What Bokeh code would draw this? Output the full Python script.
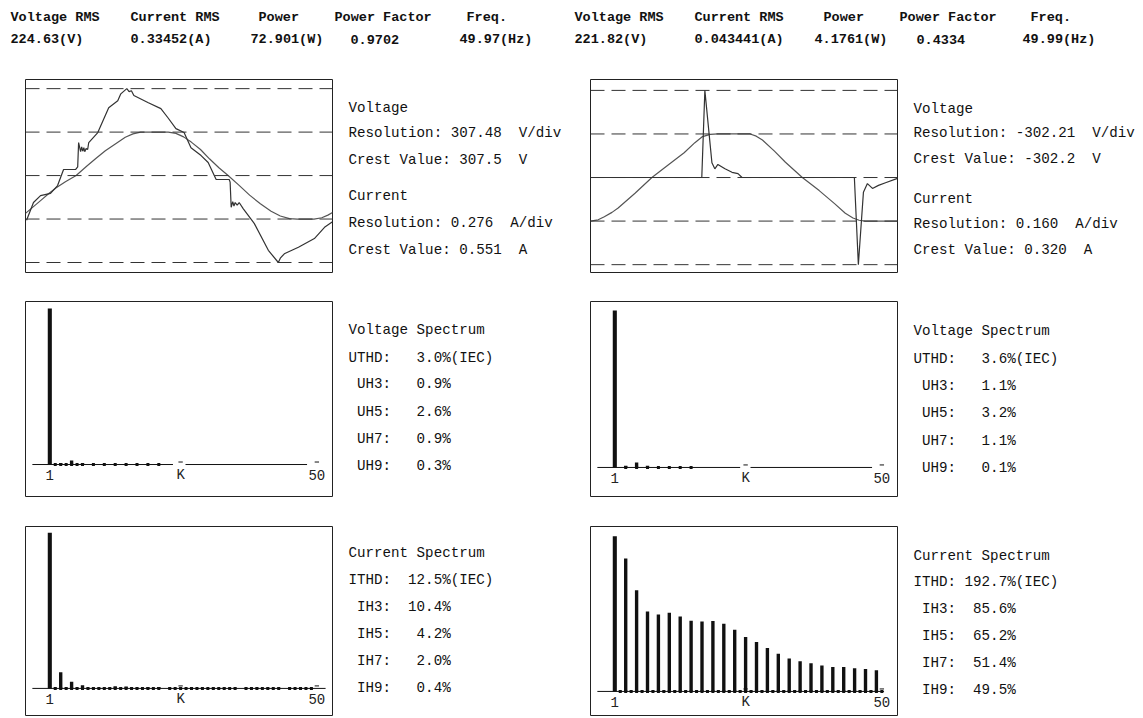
from bokeh.plotting import figure
from bokeh.layouts import column, row
from bokeh.models import Range1d, Span
from bokeh.embed import file_html
from bokeh.resources import INLINE
from bokeh.core.properties import value

MONO = "Liberation Mono"
NB = "\u00a0"

# ---------------- header texts ----------------
hdr_labels = ["Voltage RMS", "Current RMS", "Power", "Power Factor", "Freq."]
hdr_vals_L = ["224.63(V)", "0.33452(A)", "72.901(W)", "0.9702", "49.97(Hz)"]
hdr_vals_R = ["221.82(V)", "0.043441(A)", "4.1761(W)", "0.4334", "49.99(Hz)"]

# ---------------- info texts ----------------
wave_txt_L = ["Voltage", "Resolution: 307.48  V/div", "Crest Value: 307.5  V",
              "Current", "Resolution: 0.276  A/div", "Crest Value: 0.551  A"]
wave_txt_R = ["Voltage", "Resolution: -302.21  V/div", "Crest Value: -302.2  V",
              "Current", "Resolution: 0.160  A/div", "Crest Value: 0.320  A"]
vspec_txt_L = ["Voltage Spectrum", "UTHD:   3.0%(IEC)", " UH3:   0.9%", " UH5:   2.6%", " UH7:   0.9%", " UH9:   0.3%"]
vspec_txt_R = ["Voltage Spectrum", "UTHD:   3.6%(IEC)", " UH3:   1.1%", " UH5:   3.2%", " UH7:   1.1%", " UH9:   0.1%"]
ispec_txt_L = ["Current Spectrum", "ITHD:  12.5%(IEC)", " IH3:  10.4%", " IH5:   4.2%", " IH7:   2.0%", " IH9:   0.4%"]
ispec_txt_R = ["Current Spectrum", "ITHD: 192.7%(IEC)", " IH3:  85.6%", " IH5:  65.2%", " IH7:  51.4%", " IH9:  49.5%"]

# ---------------- waveforms (time in ms, value in divisions) ----------------
grid_divs = [-2, -1, 0, 1, 2]

wL_v_t = [0.0, 0.5, 1.0, 1.5, 2.0, 2.6, 3.3, 4.0, 4.6, 5.2, 5.9, 6.5, 7.0, 7.5, 8.0, 9.3, 9.8,
          10.3, 10.8, 11.4, 12.0, 12.6, 13.2, 13.9, 14.6, 15.3, 16.0, 16.6, 17.2, 17.7, 18.8, 19.3, 19.7, 20.0]
wL_v = [-0.87, -0.72, -0.57, -0.42, -0.28, -0.14, 0.0, 0.22, 0.4, 0.57, 0.74, 0.88, 0.96, 1.0, 1.0, 1.0, 0.97,
        0.89, 0.77, 0.6, 0.38, 0.18, 0.0, -0.22, -0.45, -0.65, -0.82, -0.93, -0.99, -1.0, -1.0, -0.97, -0.91, -0.85]

wL_i_t = [0.07, 0.52, 0.98, 1.63, 2.09, 2.48, 3.27, 3.40, 3.46, 3.59, 3.66, 3.73, 3.80, 3.86, 3.95, 4.05, 4.12,
          4.71, 5.42, 6.01, 6.21, 6.60, 6.75, 6.9, 7.06, 7.97, 8.82, 9.28, 9.80, 10.33, 10.78, 11.44, 11.90, 12.42,
          13.27, 13.33, 13.40, 13.50, 13.58, 13.66, 13.79, 13.92, 14.18, 14.90, 15.82, 16.47, 16.60, 16.86,
          17.78, 18.82, 19.48, 20.0]
wL_i = [-1.03, -0.62, -0.46, -0.41, -0.23, 0.14, 0.14, 0.20, 0.76, 0.55, 0.66, 0.56, 0.64, 0.55, 0.62, 0.60, 0.76,
        0.99, 1.56, 1.72, 1.88, 2.0, 1.93, 1.95, 1.84, 1.68, 1.54, 1.33, 1.08, 0.99, 0.64, 0.46, 0.30, -0.09,
        -0.09, -0.15, -0.73, -0.60, -0.70, -0.62, -0.68, -0.62, -0.76, -1.10, -1.72, -2.0, -1.90, -1.80,
        -1.65, -1.45, -1.19, -1.06]

wR_v_t = [0.0, 0.5, 0.9, 1.4, 1.8, 2.9, 4.0, 5.1, 6.1, 6.8, 7.3, 7.8, 8.3, 10.4, 10.8, 11.2, 12.0, 12.7,
          13.8, 14.9, 15.9, 16.6, 17.1, 17.5, 17.9, 20.0]
wR_v = [-1.0, -0.97, -0.9, -0.8, -0.7, -0.36, 0.0, 0.3, 0.57, 0.8, 0.94, 0.99, 1.0, 1.0, 0.95, 0.86, 0.6, 0.35,
        0.0, -0.3, -0.6, -0.82, -0.93, -0.98, -1.0, -1.0]

wR_i_t = [0.0, 7.25, 7.45, 7.91, 8.10, 8.30, 8.76, 9.22, 9.61, 9.87, 17.19, 17.45, 17.78, 18.04, 18.37,
          18.76, 19.22, 20.0]
wR_i = [0.0, 0.0, 2.0, 0.34, 0.20, 0.30, 0.20, 0.12, 0.09, 0.0, 0.0, -2.0, -0.34, -0.14, -0.25,
        -0.18, -0.12, -0.02]

# ---------------- spectra (harmonic order, % of fundamental) ----------------
harmonics = list(range(1, 51))
vspec_L = [100, 0.3, 0.9, 0.2, 2.6, 0.4, 0.9, 0, 0.3, 0, 0.4, 0, 0.3, 0, 0.4, 0, 0.3, 0, 0.3, 0,
           0.3, 0, 0, 0, 0, 0, 0, 0, 0, 0, 0, 0, 0, 0, 0, 0, 0, 0, 0, 0,
           0, 0, 0, 0, 0, 0, 0, 0, 0, 0]
vspec_R = [100, 0, 1.1, 0, 3.2, 0, 1.1, 0, 0.1, 0, 0.3, 0, 0.3, 0, 0.3, 0, 0, 0, 0, 0,
           0, 0, 0, 0, 0, 0, 0, 0, 0, 0, 0, 0, 0, 0, 0, 0, 0, 0, 0, 0,
           0, 0, 0, 0, 0, 0, 0, 0, 0, 0]
ispec_L = [100, 0.5, 10.4, 0.4, 4.2, 0.4, 2.0, 0.4, 0.4, 0.4, 0.5, 0.4, 1.4, 0.4, 1.3, 0.4, 0.5, 0.3, 0.8, 0.3,
           0.9, 0, 0.4, 0.3, 0.5, 0.3, 0.4, 0.3, 0.5, 0.3, 0.5, 0.3, 0.5, 0.3, 0.5, 0, 0.5, 0.3, 0.4, 0.3,
           0.4, 0.3, 0.4, 0, 0.4, 0.3, 0.4, 0.3, 0.3, 0]
ispec_R = [100, 0.4, 85.6, 0.4, 65.2, 0.4, 51.4, 0.4, 49.5, 0.4, 50.7, 0.4, 48.3, 0.4, 45.5, 0.4, 45.1, 0.4, 45.3, 0.4,
           43.6, 0.4, 39.7, 0.4, 35.0, 0.4, 31.8, 0.4, 27.9, 0.4, 24.3, 0.4, 21.2, 0.4, 19.5, 0.4, 18.2, 0.4, 16.7, 0.4,
           15.7, 0.4, 15.7, 0.4, 15.0, 0.4, 14.4, 0.4, 13.7, 0.3]
axis_labels = ["1", "K", "50"]
axis_label_pos = [1, 25, 50]

INK = "#111111"
FS = "14.2px"


def nb(s):
    return s.replace(" ", NB)


def base_fig(width, height, xr, yr, bl, br, bt, bb):
    p = figure(width=width, height=height, x_range=xr, y_range=yr, title=None,
               x_axis_type=None, y_axis_type=None, toolbar_location=None,
               output_backend="svg", min_border_left=bl, min_border_right=br,
               min_border_top=bt, min_border_bottom=bb)
    p.xgrid.visible = False
    p.ygrid.visible = False
    p.background_fill_color = "white"
    p.border_fill_color = "white"
    return p


def text_fig(width, height, bt, bb, xs, ys, texts, size=FS, bold=False):
    # y data = pixels from the top of this figure
    p = base_fig(width, height, Range1d(0, width), Range1d(height - bb, bt), 0, 0, bt, bb)
    p.outline_line_color = None
    p.text(x=xs, y=ys, text=[nb(t) for t in texts], text_font=value(MONO),
           text_font_size=size, text_baseline="middle", text_align="left",
           text_color=INK, text_font_style="bold" if bold else "normal")
    return p


def wave_fig(width, height, bl, br, bt, bb, y0, y1, tv, v, ti, i):
    p = base_fig(width, height, Range1d(0, 20), Range1d(y0, y1), bl, br, bt, bb)
    p.outline_line_color = "#222222"
    p.outline_line_width = 1
    for g in grid_divs:
        p.add_layout(Span(location=g, dimension="width", line_color="#333333",
                          line_dash="14 7", line_width=1))
    p.line(tv, v, line_color="#555555", line_width=1.2)
    p.line(ti, i, line_color="#333333", line_width=1.2)
    return p


def spec_fig(width, height, bl, br, bt, bb, y0, y1, vals, seg_x0, seg_x1):
    p = base_fig(width, height, Range1d(-3.46, 52.87), Range1d(y0, y1), bl, br, bt, bb)
    p.outline_line_color = "#222222"
    p.outline_line_width = 1
    p.segment(x0=seg_x0, x1=seg_x1, y0=[0] * len(seg_x0), y1=[0] * len(seg_x0),
              line_color=INK, line_width=1)
    p.segment(x0=[24.6, 49.6], x1=[25.4, 50.4], y0=[1.6, 1.6], y1=[1.6, 1.6],
              line_color=INK, line_width=1)
    hs = [h for h, v in zip(harmonics, vals) if v > 0]
    vs = [v for v in vals if v > 0]
    ws = [0.75 if h == 1 else 0.62 for h in hs]
    p.vbar(x=hs, top=vs, bottom=0, width=ws, fill_color=INK, line_color=None)
    dh = [h for h in hs if h > 1]
    p.scatter(x=dh, y=[0] * len(dh), marker="square", size=3, fill_color=INK, line_color=None)
    p.text(x=axis_label_pos, y=[-7] * 3, text=axis_labels, text_font=value(MONO),
           text_font_size="14px", text_align="center", text_baseline="middle", text_color="#222222")
    return p


# ---------------- header ----------------
HW, HH = 1141, 68
hdr_x = [10, 130, 258, 334, 466, 574, 694, 823, 899, 1030]
hdr_vx = [10, 130, 250, 350, 459, 574, 694, 814, 916, 1022]
hdr = base_fig(HW, HH, Range1d(0, HW), Range1d(HH, 0), 0, 0, 0, 0)
hdr.outline_line_color = None
hdr.text(x=hdr_x, y=[16.5] * 10, text=hdr_labels + hdr_labels, text_font=value(MONO),
         text_font_size="13.5px", text_font_style="bold", text_baseline="middle", text_color=INK)
hdr.text(x=hdr_vx, y=[38.5] * 10, text=hdr_vals_L + hdr_vals_R, text_font=value(MONO),
         text_font_size="13.5px", text_font_style="bold", text_baseline="middle", text_color=INK)

# column widths: left plot 340, left text 243, right plot 322, right text 236
WL, WT1, WR, WT2 = 340, 243, 322, 236

# ---------------- row 1 : waveforms ----------------
H1, T1, B1 = 222, 11, 18
r1 = row(
    wave_fig(WL, H1, 25, 8, T1, B1, -2.23, 2.21, wL_v_t, wL_v, wL_i_t, wL_i),
    text_fig(WT1, H1, T1, B1, [8] * 6, [39, 64, 91, 127, 154, 181], wave_txt_L),
    wave_fig(WR, H1, 7, 8, T1, B1, -2.18, 2.25, wR_v_t, wR_v, wR_i_t, wR_i),
    text_fig(WT2, H1, T1, B1, [8] * 6, [40, 64, 90, 130, 155, 181], wave_txt_R),
    spacing=0)

# ---------------- row 2 : voltage spectra ----------------
H2, T2, B2 = 222, 11, 16
r2 = row(
    spec_fig(WL, H2, 25, 8, T2, B2, -20.5, 104.5, vspec_L, [-2.2, 25.9], [23.6, 48.2]),
    text_fig(WT1, H2, T2, B2, [8] * 6, [39, 67, 93, 121, 148, 175], vspec_txt_L),
    spec_fig(WR, H2, 7, 8, T2, B2, -18.5, 105.7, vspec_R, [-2.2, 25.9], [24.0, 48.2]),
    text_fig(WT2, H2, T2, B2, [8] * 6, [40, 68, 95, 122, 150, 177], vspec_txt_R),
    spacing=0)

# ---------------- row 3 : current spectra ----------------
H3, T3, B3 = 204, 14, 1
r3 = row(
    spec_fig(WL, H3, 25, 8, T3, B3, -17.4, 104.0, ispec_L, [-2.2], [51.6]),
    text_fig(WT1, H3, T3, B3, [8] * 6, [40, 67, 94, 121, 148, 175], ispec_txt_L),
    spec_fig(WR, H3, 7, 8, T3, B3, -15.5, 106.2, ispec_R, [-2.2], [50.4]),
    text_fig(WT2, H3, T3, B3, [8] * 6, [43, 69, 96, 123, 150, 177], ispec_txt_R),
    spacing=0)

layout = column(hdr, r1, r2, r3, spacing=0)

with open("out.html", "w") as f:
    f.write(file_html(layout, INLINE))
